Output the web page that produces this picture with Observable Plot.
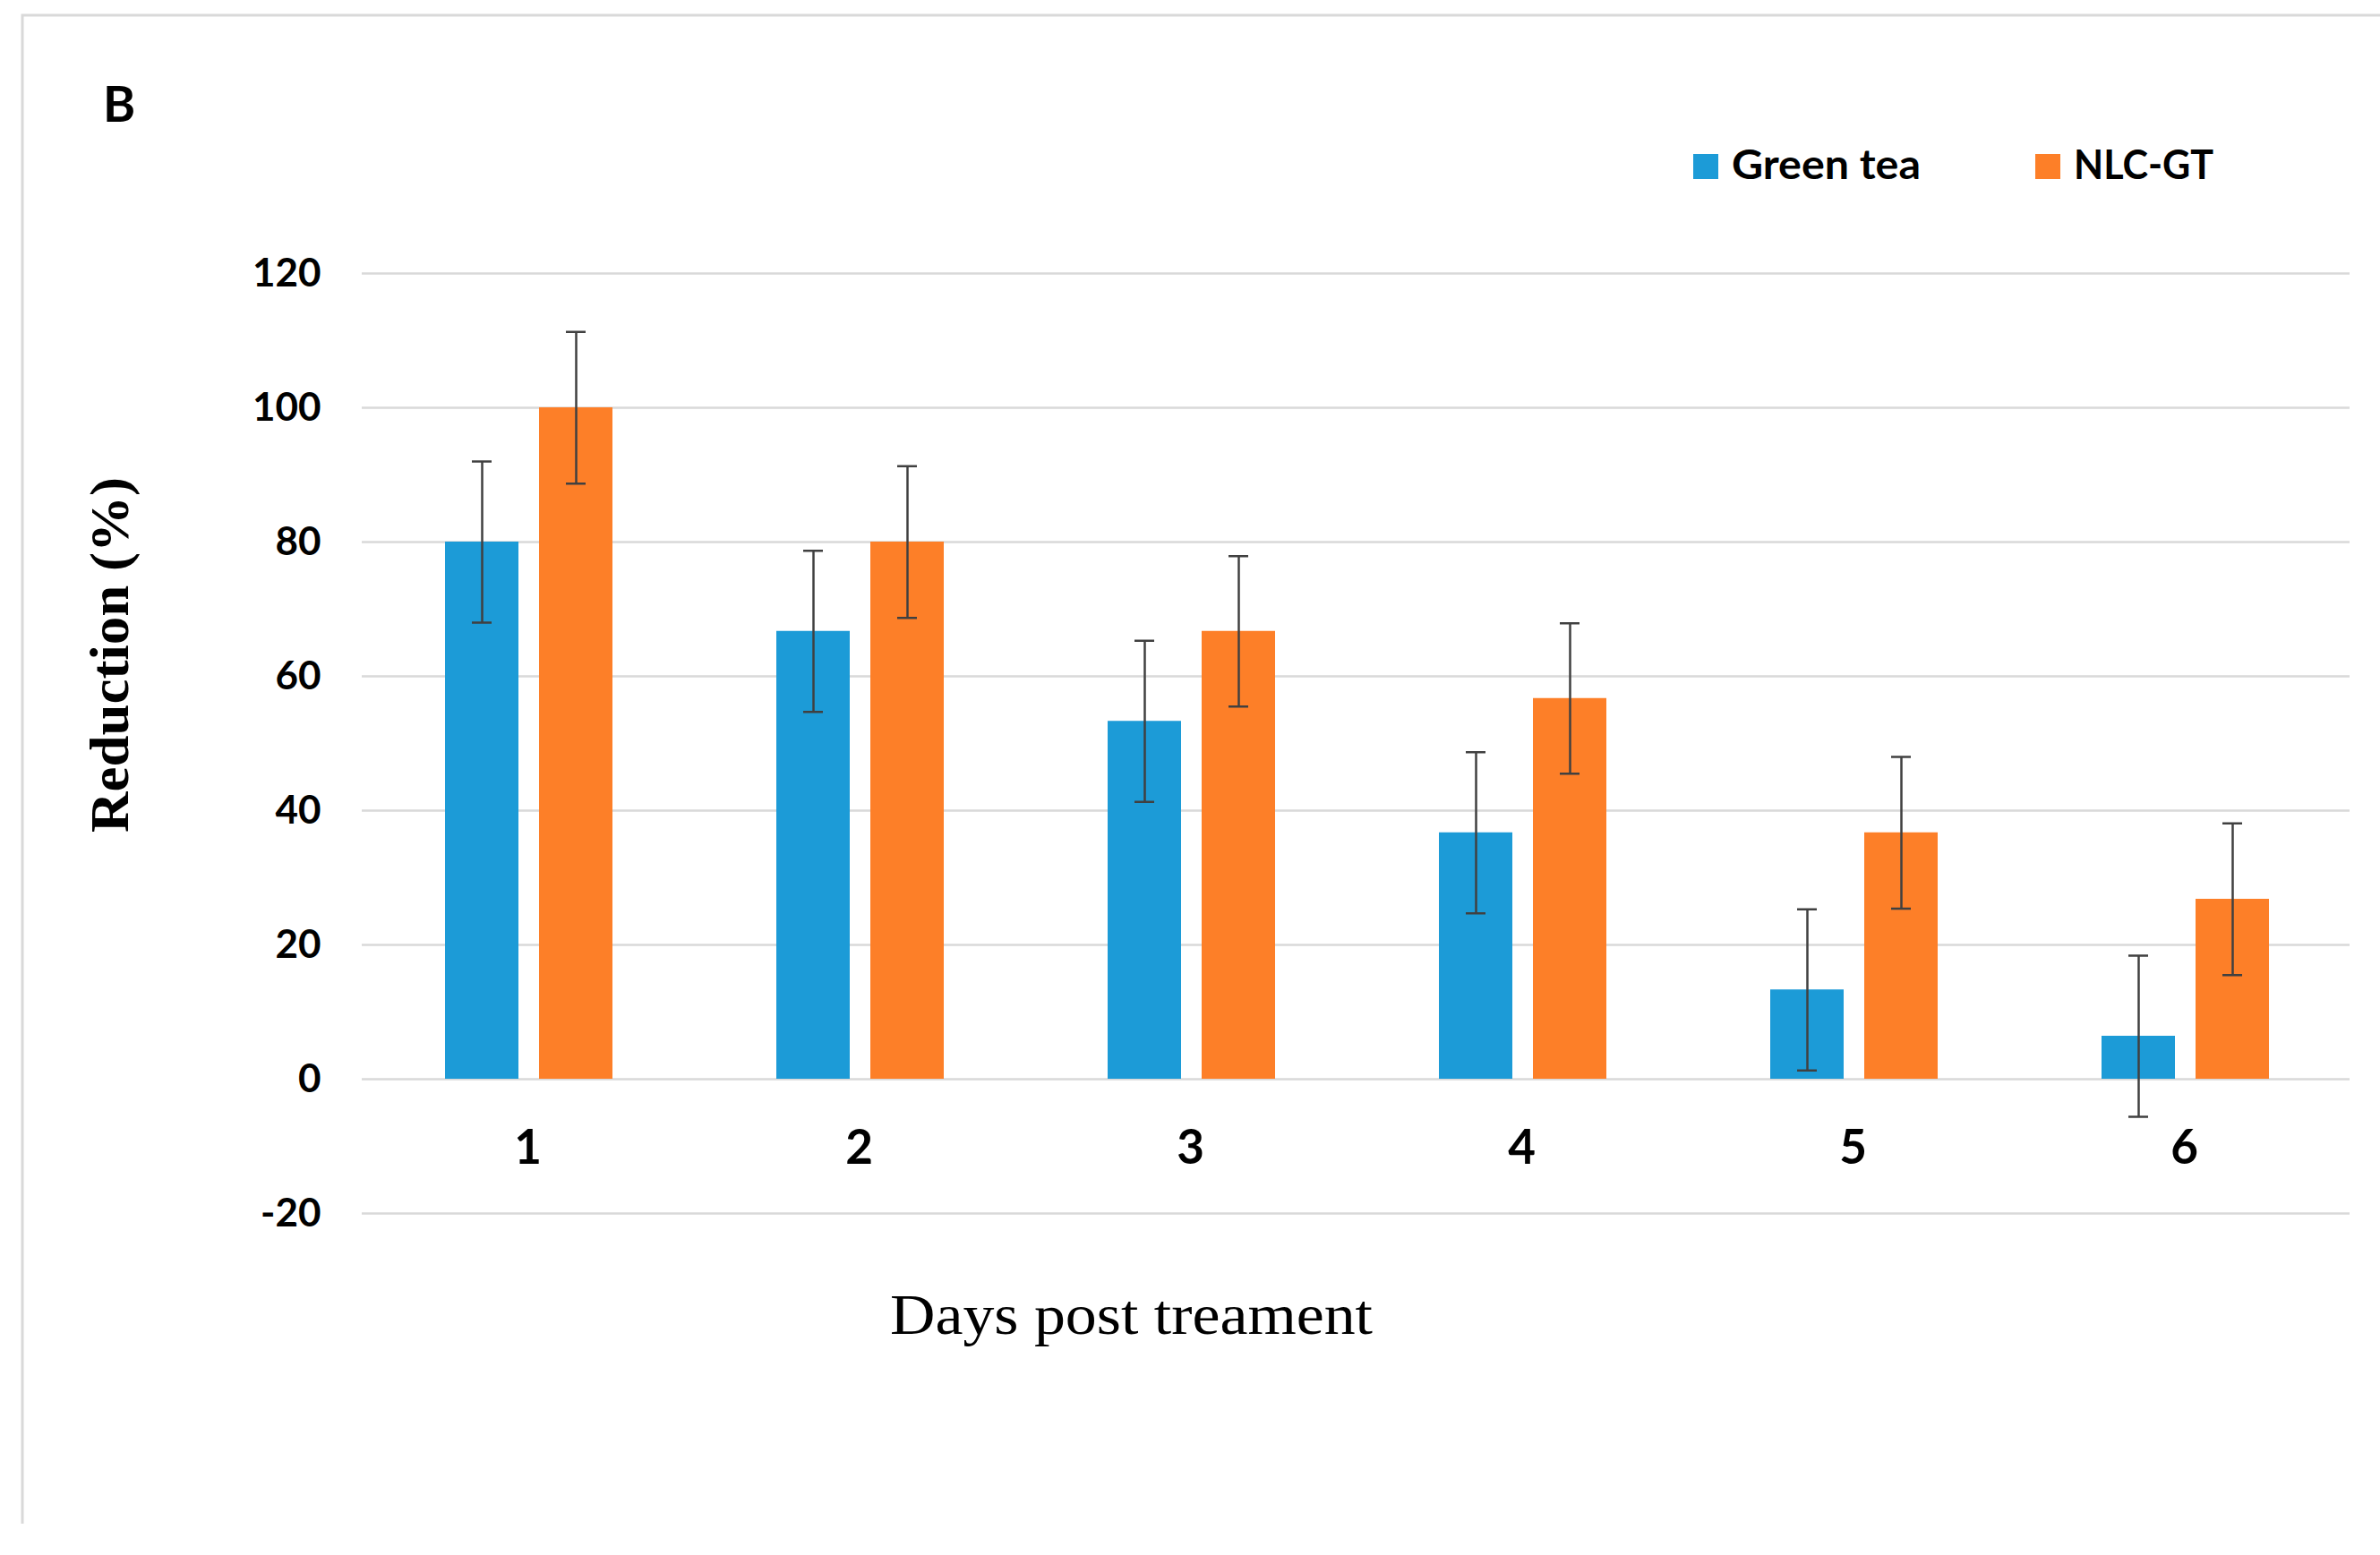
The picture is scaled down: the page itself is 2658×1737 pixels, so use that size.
<!DOCTYPE html>
<html>
<head>
<meta charset="utf-8">
<script src="https://cdn.jsdelivr.net/npm/d3@7"></script>
<script src="https://cdn.jsdelivr.net/npm/@observablehq/plot@0.6"></script>
<style>
  html, body { margin: 0; padding: 0; background: #fff; }
  #chart { position: relative; width: 2658px; height: 1737px; }
</style>
</head>
<body>
<div id="chart"></div>
<script>
// ---- data ----
const days = ["1", "2", "3", "4", "5", "6"];
const series = ["Green tea", "NLC-GT"];
const colors = ["#1c9bd7", "#fd7f28"];
const greenTea = [80, 66.7, 53.3, 36.7, 13.3, 6.4];
const greenTeaErr = [12, 12, 12, 12, 12, 12];
const nlcGT = [100, 80, 66.7, 56.7, 36.7, 26.8];
const nlcGTErr = [11.3, 11.3, 11.2, 11.2, 11.3, 11.3];
const yTicks = [-20, 0, 20, 40, 60, 80, 100, 120];
const panelLabel = "B";
const yTitle = "Reduction (%)";
const xTitle = "Days post treament";

const rows = [];
days.forEach((d, i) => {
  rows.push({day: d, series: series[0], value: greenTea[i], err: greenTeaErr[i]});
  rows.push({day: d, series: series[1], value: nlcGT[i], err: nlcGTErr[i]});
});

const W = 2658, H = 1737;
const plot = Plot.plot({
  width: W,
  height: H,
  marginLeft: 403,
  marginRight: 34,
  marginTop: 305,
  marginBottom: 382,
  style: {background: "#fff", overflow: "visible"},
  fx: {domain: days, padding: 0, axis: null, label: null},
  x: {domain: series, paddingInner: 0.217, paddingOuter: 0.855, align: 0.51, axis: null, label: null},
  y: {domain: [-20, 120], axis: null, label: null},
  color: {domain: series, range: colors},
  marks: [
    Plot.gridY(yTicks, {stroke: "#d9d9d9", strokeOpacity: 1, strokeWidth: 2.5}),
    Plot.axisY(yTicks, {
      tickSize: 0, tickPadding: 46, label: null,
      tickFormat: d => String(d),
      fontSize: 44, fontWeight: "bold", fontFamily: "Lato", fill: "#000"
    }),
    Plot.barY(rows, {fx: "day", x: "series", y: "value", fill: "series"}),
    Plot.ruleX(rows, {fx: "day", x: "series", y1: d => d.value - d.err, y2: d => d.value + d.err, stroke: "#404040", strokeWidth: 2.5}),
    Plot.tickY(rows, {fx: "day", x: "series", y: d => d.value + d.err, insetLeft: 30, insetRight: 30, stroke: "#404040", strokeWidth: 2.5}),
    Plot.tickY(rows, {fx: "day", x: "series", y: d => d.value - d.err, insetLeft: 30, insetRight: 30, stroke: "#404040", strokeWidth: 2.5}),
    Plot.text(days, {fx: d => d, text: d => d, frameAnchor: "bottom", dy: -72, lineAnchor: "middle",
      fontSize: 53, fontWeight: "bold", fontFamily: "Lato", fill: "#000"})
  ]
});
document.getElementById("chart").appendChild(plot);

// ---- annotations (frame, panel letter, legend, titles) ----
const svg = d3.select(plot);
const g = svg.append("g").attr("text-anchor", "start");
g.append("path").attr("d", `M25,1702V17H${W}`).attr("fill", "none").attr("stroke", "#d9d9d9").attr("stroke-width", 3);

g.append("text").text(panelLabel)
  .attr("x", 115).attr("y", 136).attr("text-anchor", "start")
  .attr("font-family", "Lato").attr("font-weight", "bold").attr("font-size", 55).attr("fill", "#000");

const legendX = [1891, 2273];
const legendTextLen = [211, 156];
series.forEach((s, i) => {
  g.append("rect").attr("x", legendX[i]).attr("y", 172).attr("width", 28).attr("height", 28).attr("fill", colors[i]);
  g.append("text").text(s)
    .attr("x", legendX[i] + 43).attr("y", 200).attr("text-anchor", "start")
    .attr("textLength", legendTextLen[i]).attr("lengthAdjust", "spacingAndGlyphs")
    .attr("font-family", "Lato").attr("font-weight", "bold").attr("font-size", 45).attr("fill", "#000");
});

g.append("text").text(yTitle)
  .attr("transform", "translate(143,731.5) rotate(-90)")
  .attr("text-anchor", "middle")
  .attr("textLength", 397).attr("lengthAdjust", "spacingAndGlyphs")
  .attr("font-family", "Liberation Serif").attr("font-weight", "bold").attr("font-size", 62).attr("fill", "#000");

g.append("text").text(xTitle)
  .attr("x", 994).attr("y", 1490).attr("text-anchor", "start")
  .attr("textLength", 539).attr("lengthAdjust", "spacingAndGlyphs")
  .attr("font-family", "Liberation Serif").attr("font-size", 63).attr("fill", "#000");
</script>
</body>
</html>
